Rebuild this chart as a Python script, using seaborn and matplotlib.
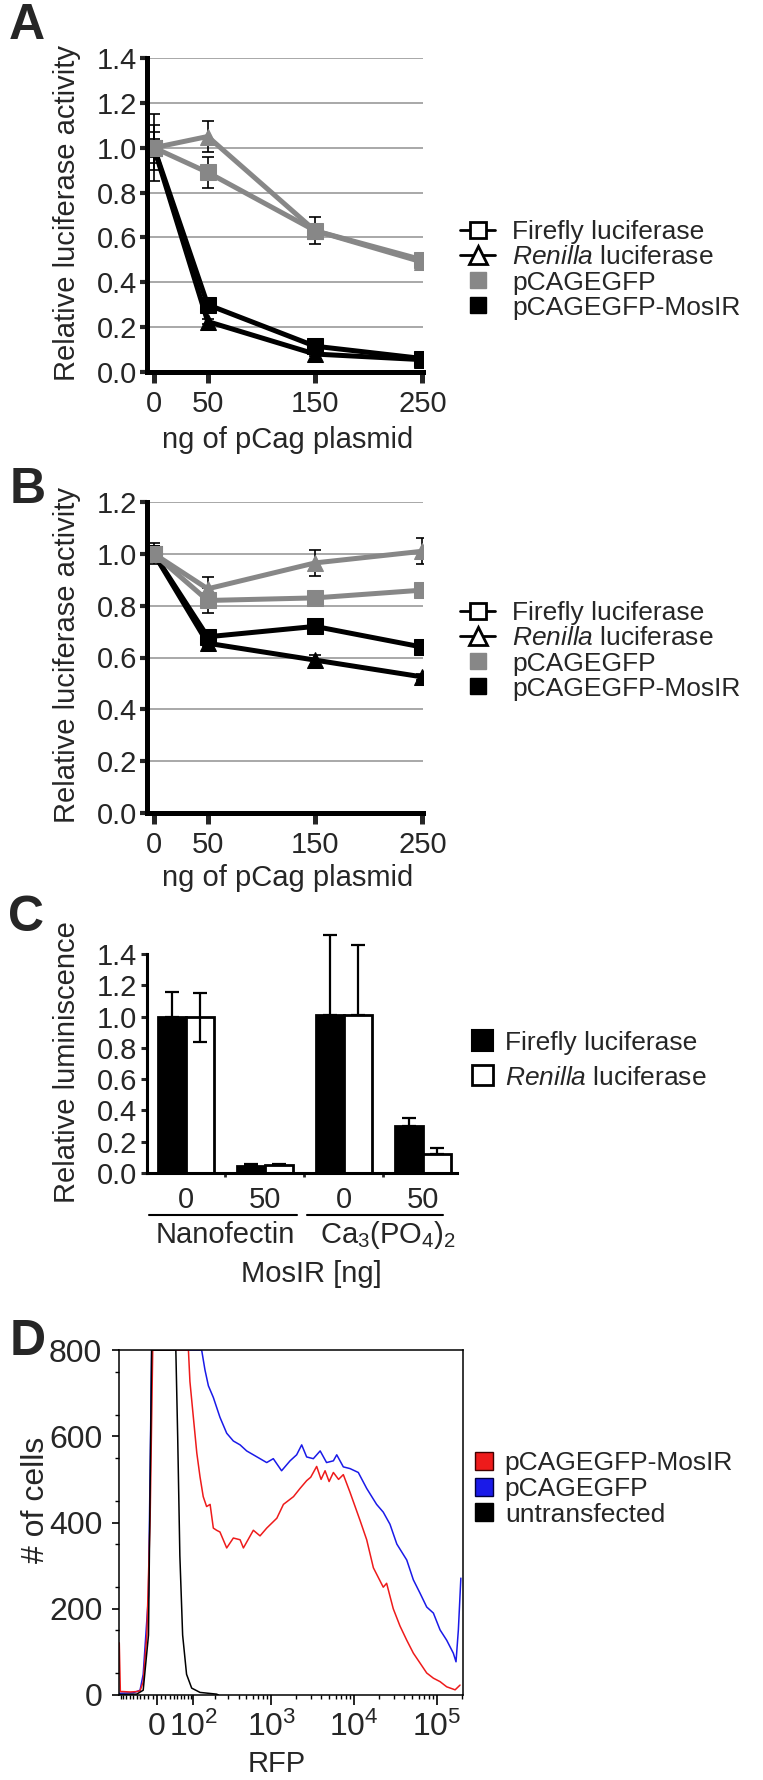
import numpy as np
import pandas as pd
import matplotlib
matplotlib.use('Agg')
import matplotlib.pyplot as plt
from matplotlib.lines import Line2D
from matplotlib.patches import Patch
from matplotlib.legend_handler import HandlerLine2D
from matplotlib.ticker import FixedLocator
import seaborn as sns

# ---------------- data ----------------
doses = [0, 50, 150, 250]
dose_labels = ['0', '50', '150', '250']

# panel A: relative luciferase activity
a_gfp_ff = [1.00, 0.89, 0.63, 0.50]
a_gfp_ff_sd = [0.04, 0.07, 0.03, 0.02]
a_gfp_rn = [1.00, 1.05, 0.63, 0.49]
a_gfp_rn_sd = [0.07, 0.07, 0.06, 0.02]
a_mos_ff = [1.00, 0.30, 0.115, 0.06]
a_mos_ff_sd = [0.10, 0.02, 0.01, 0.01]
a_mos_rn = [1.00, 0.225, 0.08, 0.055]
a_mos_rn_sd = [0.15, 0.01, 0.01, 0.01]

# panel B
b_gfp_ff = [1.00, 0.82, 0.83, 0.86]
b_gfp_ff_sd = [0.03, 0.05, 0.01, 0.01]
b_gfp_rn = [1.00, 0.865, 0.965, 1.01]
b_gfp_rn_sd = [0.02, 0.045, 0.05, 0.05]
b_mos_ff = [1.00, 0.68, 0.72, 0.64]
b_mos_ff_sd = [0.04, 0.01, 0.01, 0.01]
b_mos_rn = [1.00, 0.655, 0.59, 0.525]
b_mos_rn_sd = [0.03, 0.01, 0.02, 0.01]

# panel C: relative luminiscence
c_groups = ['Nanofectin 0', 'Nanofectin 50', 'CaPO 0', 'CaPO 50']
c_tick_labels = ['0', '50', '0', '50']
c_firefly = [1.00, 0.045, 1.01, 0.30]
c_firefly_err = [0.16, 0.01, 0.51, 0.05]
c_renilla = [1.00, 0.05, 1.01, 0.12]
c_renilla_err_up = [0.15, 0.01, 0.45, 0.04]
c_renilla_err_low = [0.16, 0.0, 0.0, 0.0]

# panel D: RFP histograms (# of cells)
d_red_x = [-105, -101, -92, -69, -49, -41, -33, -24, -16, -10, 83, 88, 100, 113, 126,
           140, 156, 174, 192, 212, 234, 285, 345, 418, 459, 607, 732, 882, 1170, 1405,
           1860, 2230, 2680, 3000, 3540, 4000, 4470, 5000, 5630, 6500, 7420, 8940, 11800,
           14200, 17100, 22500, 24700, 29700, 35800, 43200, 51900, 62500, 75200, 90500,
           108900, 131000, 165500, 189700]
d_red_y = [121, 8, 8, 7, 8, 10, 30, 140, 415, 800, 800, 727, 644, 561, 506,
           460, 437, 442, 387, 382, 378, 341, 364, 360, 341, 382, 369, 387, 410, 442,
           460, 479, 497, 505, 530, 500, 520, 495, 516, 500, 511, 470, 405,
           360, 295, 250, 259, 200, 160, 127, 97, 74, 51, 39,
           31, 19, 12, 23]
d_blue_x = [-105, -60, -41, -33, -20, -12.5, 133, 148, 165, 192, 234, 285, 345, 418, 503,
            607, 732, 882, 1060, 1335, 1690, 2030, 2335, 2680, 3225, 3900, 4660, 5630,
            6180, 7420, 8940, 11250, 14200, 18700, 22500, 27100, 32800, 43200, 51900,
            62500, 75200, 90500, 108900, 131000, 157400, 169700, 181100, 194100]
d_blue_y = [4, 5, 11, 48, 231, 800, 800, 754, 717, 690, 644, 607, 589, 580, 566,
            557, 548, 539, 548, 520, 543, 557, 580, 552, 548, 566, 539, 543,
            557, 529, 525, 516, 479, 442, 424, 396, 350, 313, 267,
            236, 204, 190, 151, 127, 97, 77, 151, 271]
d_black_x = [-105, -50, -33, -20, -12.5, 46, 51, 57, 65, 77, 94, 126, 212, 224]
d_black_y = [1, 2, 11, 139, 800, 800, 598, 323, 139, 48, 16, 6, 2, 0]
d_xticks = [0, 100, 1000, 10000, 100000]
d_xtick_labels = ['0', r'$\mathregular{10^2}$', r'$\mathregular{10^3}$',
                  r'$\mathregular{10^4}$', r'$\mathregular{10^5}$']

# ---------------- style ----------------
sns.set_theme(style='white')
plt.rcParams['font.family'] = ['Liberation Sans', 'DejaVu Sans']
plt.rcParams['mathtext.fontset'] = 'custom'
plt.rcParams['mathtext.rm'] = 'Liberation Sans'
plt.rcParams['mathtext.it'] = 'Liberation Sans:italic'
plt.rcParams['mathtext.bf'] = 'Liberation Sans:bold'

GRAY = '#878787'
TICK_FS = 21
LAB_FS = 21
LEG_FS = 19
W, H = 763, 1780


def rect(left, top, right, bottom):
    return [left / W, 1 - bottom / H, (right - left) / W, (bottom - top) / H]


def fpos(x, y):
    return x / W, 1 - y / H


class RightMarker(HandlerLine2D):
    # legend square sits at the right end of the handle box, next to the text
    def get_xdata(self, legend, xdescent, ydescent, width, height, fontsize):
        xdata, _ = super().get_xdata(legend, xdescent, ydescent, width, height, fontsize)
        return xdata, [-xdescent + 0.9 * width]


fig = plt.figure(figsize=(W / 100, H / 100), dpi=100)


# ---------------- panels A and B ----------------
def line_panel(ax, series, ymax):
    for vals, sd, color, marker, ms in series:
        ax.errorbar(doses, vals, yerr=sd, fmt='none', ecolor='black',
                    elinewidth=1.2, capsize=4, capthick=1.2, zorder=1.5)
    for vals, sd, color, marker, ms in series:
        sns.lineplot(x=doses, y=vals, color=color, marker=marker, markersize=ms,
                     markeredgecolor=color, linewidth=3.6, ax=ax, zorder=2)
    ax.set_xlim(-6.5, 250.5)
    ax.set_ylim(0, ymax)
    ax.set_yticks(np.arange(0, ymax + 0.01, 0.2))
    ax.set_yticklabels([f'{v:.1f}' for v in np.arange(0, ymax + 0.01, 0.2)])
    ax.set_xticks(doses)
    ax.set_xticklabels(dose_labels)
    ax.yaxis.grid(True, color='#9a9a9a', linewidth=1.2)
    ax.set_axisbelow(True)
    sns.despine(ax=ax)
    for s in ['left', 'bottom']:
        ax.spines[s].set_linewidth(3.6)
        ax.spines[s].set_color('black')
    ax.tick_params(axis='y', length=5, width=3, pad=2, labelsize=TICK_FS, left=True)
    ax.tick_params(axis='x', length=8, width=3.6, pad=5, labelsize=TICK_FS, bottom=True)
    ax.set_xlabel('')
    ax.set_ylabel('')


gfp_handle = Line2D([], [], ls='none', marker='s', ms=11, color=GRAY)
mos_handle = Line2D([], [], ls='none', marker='s', ms=11, color='black')
line_handles = [
    Line2D([], [], color='black', lw=2, marker='s', ms=11, mfc='white', mec='black', mew=2),
    Line2D([], [], color='black', lw=2, marker='^', ms=13, mfc='white', mec='black', mew=2),
    gfp_handle,
    mos_handle,
]
line_labels = ['Firefly luciferase', r'$\mathit{Renilla}$ luciferase', 'pCAGEGFP', 'pCAGEGFP-MosIR']
hmap = {gfp_handle: RightMarker(), mos_handle: RightMarker()}

axA = fig.add_axes(rect(147, 58, 423, 372))
line_panel(axA, [
    (a_mos_ff, a_mos_ff_sd, 'black', 's', 11),
    (a_mos_rn, a_mos_rn_sd, 'black', '^', 12),
    (a_gfp_ff, a_gfp_ff_sd, GRAY, 's', 11),
    (a_gfp_rn, a_gfp_rn_sd, GRAY, '^', 12),
], 1.4)
axA.legend(line_handles, line_labels, handler_map=hmap, loc='center left',
           bbox_to_anchor=fpos(460, 270), bbox_transform=fig.transFigure, frameon=False,
           fontsize=LEG_FS, borderpad=0, borderaxespad=0, handlelength=1.33,
           handletextpad=0.65, labelspacing=0.04)

axB = fig.add_axes(rect(147, 502, 423, 813))
line_panel(axB, [
    (b_mos_ff, b_mos_ff_sd, 'black', 's', 11),
    (b_mos_rn, b_mos_rn_sd, 'black', '^', 12),
    (b_gfp_ff, b_gfp_ff_sd, GRAY, 's', 11),
    (b_gfp_rn, b_gfp_rn_sd, GRAY, '^', 12),
], 1.2)
axB.legend(line_handles, line_labels, handler_map=hmap, loc='center left',
           bbox_to_anchor=fpos(460, 651), bbox_transform=fig.transFigure, frameon=False,
           fontsize=LEG_FS, borderpad=0, borderaxespad=0, handlelength=1.33,
           handletextpad=0.65, labelspacing=0.04)

for yc, yb in [(213, 448), (655, 886)]:
    fig.text(*fpos(67, yc), 'Relative luciferase activity', rotation=90, ha='center',
             va='center', fontsize=LAB_FS)
    fig.text(*fpos(288, yb), 'ng of pCag plasmid', ha='center', va='baseline', fontsize=LAB_FS)

# ---------------- panel C ----------------
axC = fig.add_axes(rect(147, 954, 457, 1173))
c_df = pd.DataFrame({
    'group': c_groups * 2,
    'assay': ['Firefly'] * 4 + ['Renilla'] * 4,
    'value': c_firefly + c_renilla,
})
bar_w = 0.71
sns.barplot(data=c_df, x='group', y='value', hue='assay', palette=['black', 'white'],
            edgecolor='black', linewidth=2, width=bar_w, gap=0, errorbar=None,
            legend=False, ax=axC)
xpos = np.arange(len(c_groups))
eb1 = axC.errorbar(xpos - bar_w / 4, c_firefly, yerr=[[0] * 4, c_firefly_err], fmt='none',
                   ecolor='black', elinewidth=1.6, capsize=5, capthick=1.6)
eb2 = axC.errorbar(xpos + bar_w / 4, c_renilla, yerr=[c_renilla_err_low, c_renilla_err_up],
                   fmt='none', ecolor='black', elinewidth=1.6, capsize=5, capthick=1.6)
for eb in (eb1, eb2):
    for art in eb.lines[1] + eb.lines[2]:
        art.set_clip_on(False)
axC.set_xlim(-0.49, 3.43)
axC.set_ylim(0, 1.4)
axC.set_yticks(np.arange(0, 1.41, 0.2))
axC.set_yticklabels([f'{v:.1f}' for v in np.arange(0, 1.41, 0.2)])
axC.set_xticks(xpos)
axC.set_xticklabels(c_tick_labels)
axC.xaxis.set_minor_locator(FixedLocator([0.5, 1.5, 2.5]))
sns.despine(ax=axC)
for s in ['left', 'bottom']:
    axC.spines[s].set_linewidth(2.2)
    axC.spines[s].set_color('black')
axC.tick_params(axis='y', length=4, width=2.2, pad=3, labelsize=TICK_FS, left=True)
axC.tick_params(axis='x', which='major', length=0, pad=9, labelsize=TICK_FS)
axC.tick_params(axis='x', which='minor', length=3, width=2, bottom=True)
axC.set_xlabel('')
axC.set_ylabel('')
tr = axC.get_xaxis_transform()
line_y = (1173 - 1215) / (1173 - 954)
axC.plot([-0.46, 1.41], [line_y, line_y], transform=tr, clip_on=False, color='black', lw=1.5)
axC.plot([1.53, 3.25], [line_y, line_y], transform=tr, clip_on=False, color='black', lw=1.5)
fig.text(*fpos(225, 1243), 'Nanofectin', ha='center', va='baseline', fontsize=LAB_FS)
fig.text(*fpos(388, 1243), r'$\mathregular{Ca_3(PO_4)_2}$', ha='center', va='baseline', fontsize=LAB_FS)
fig.text(*fpos(311, 1282), 'MosIR [ng]', ha='center', va='baseline', fontsize=LAB_FS)
fig.text(*fpos(67, 1062), 'Relative luminiscence', rotation=90, ha='center', va='center',
         fontsize=LAB_FS)
axC.legend([Patch(facecolor='black', edgecolor='black', lw=1.5),
            Patch(facecolor='white', edgecolor='black', lw=2)],
           ['Firefly luciferase', r'$\mathit{Renilla}$ luciferase'],
           loc='center left', bbox_to_anchor=fpos(472, 1060), bbox_transform=fig.transFigure,
           frameon=False, fontsize=LEG_FS, borderpad=0, borderaxespad=0,
           handlelength=0.8, handleheight=0.8, handletextpad=0.45, labelspacing=0.4)

# ---------------- panel D ----------------
axD = fig.add_axes(rect(119, 1350, 463, 1695))
RED, BLUE = '#ee1b1b', '#1a1ae8'
sns.lineplot(x=d_blue_x, y=d_blue_y, color=BLUE, linewidth=1.1, estimator=None, sort=False, ax=axD)
sns.lineplot(x=d_red_x, y=d_red_y, color=RED, linewidth=1.1, estimator=None, sort=False, ax=axD)
sns.lineplot(x=d_black_x, y=d_black_y, color='black', linewidth=1.1, estimator=None, sort=False, ax=axD)
axD.set_xscale('asinh', linear_width=84)
axD.set_xlim(-106, 206000)
axD.set_ylim(0, 800)
axD.xaxis.set_major_locator(FixedLocator(d_xticks))
axD.set_xticklabels(d_xtick_labels)
lin_minor = [v for v in range(-100, 100, 10) if v != 0]
log_minor = [m * 10 ** k for k in range(2, 6) for m in range(2, 10) if m * 10 ** k < 206000]
axD.xaxis.set_minor_locator(FixedLocator(lin_minor + log_minor))
axD.set_yticks([0, 200, 400, 600, 800])
axD.yaxis.set_minor_locator(FixedLocator(list(range(50, 800, 100))))
for s in axD.spines.values():
    s.set_visible(True)
    s.set_linewidth(1.1)
    s.set_color('black')
axD.tick_params(axis='both', which='major', length=5, width=1.2, labelsize=23,
                left=True, bottom=True, color='black')
axD.tick_params(axis='both', which='minor', length=3, width=1, left=True, bottom=True,
                color='black')
axD.tick_params(axis='y', which='major', pad=7)
axD.tick_params(axis='x', which='major', pad=5, length=7)
axD.set_xlabel('')
axD.set_ylabel('')
fig.text(*fpos(36, 1500), '# of cells', rotation=90, ha='center', va='center', fontsize=23)
fig.text(*fpos(277, 1772), 'RFP', ha='center', va='baseline', fontsize=LAB_FS)
axD.legend([Patch(facecolor=RED, edgecolor='#400000', lw=1),
            Patch(facecolor=BLUE, edgecolor='#000040', lw=1),
            Patch(facecolor='black', edgecolor='black', lw=1)],
           ['pCAGEGFP-MosIR', 'pCAGEGFP', 'untransfected'],
           loc='center left', bbox_to_anchor=fpos(475, 1489), bbox_transform=fig.transFigure,
           frameon=False, fontsize=LEG_FS, borderpad=0, borderaxespad=0,
           handlelength=0.68, handleheight=0.68, handletextpad=0.45, labelspacing=0.06)

# ---------------- panel letters ----------------
for letter, (x, y) in zip('ABCD', [(27, 26), (28, 490), (26, 918), (28, 1342)]):
    fig.text(*fpos(x, y), letter, fontsize=36, fontweight='bold', ha='center', va='center')

fig.savefig('out.png', dpi=100)
